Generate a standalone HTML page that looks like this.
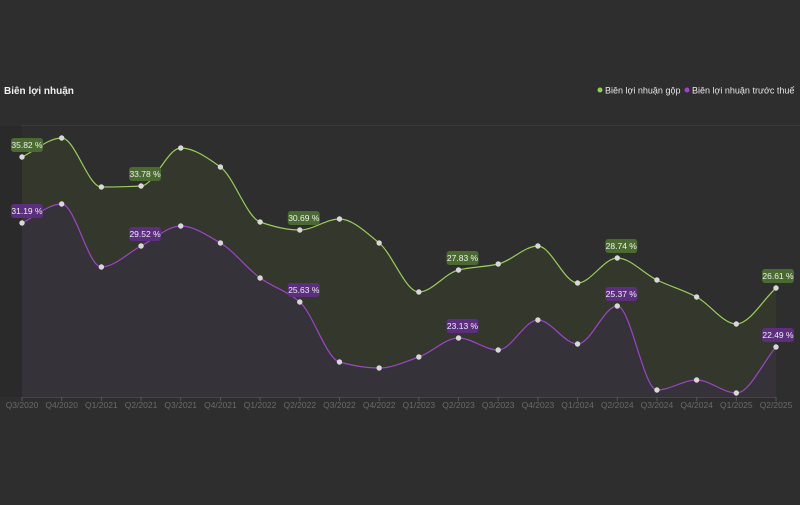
<!DOCTYPE html><html><head><meta charset="utf-8"><style>
body{margin:0;width:800px;height:500px;background:#2e2e2e;overflow:hidden;font-family:"Liberation Sans",sans-serif}
</style></head><body>
<svg id="s" width="800" height="500" xmlns="http://www.w3.org/2000/svg" font-family="Liberation Sans, sans-serif">
<rect width="800" height="500" fill="#2e2e2e"/>
<text x="4" y="94" fill="#f0f0f0" font-size="10" font-weight="bold">Biên lợi nhuận</text>
<circle cx="600" cy="90" r="2.5" fill="#8fd14f"/>
<text x="605" y="93.5" fill="#e8e8e8" font-size="9">Biên lợi nhuận gộp</text>
<circle cx="687" cy="90" r="2.5" fill="#a040d0"/>
<text x="692" y="93.5" fill="#e8e8e8" font-size="9">Biên lợi nhuận trước thuế</text>
<line x1="22" y1="125.5" x2="800" y2="125.5" stroke="#3a3a3a"/>
<rect x="0" y="126" width="22" height="271" fill="#2a2a2a"/>
<g id="g"></g>
</svg>
<script>
var G=[157,138,187,186,148,167,222,230,219,243,292,270,264,246,283,258,280,297,324,288];
var P=[223,204,267,246,226,243,278,302,362,368,357,338,350,320,344,306,390,380,393,347];
var L=["Q3/2020","Q4/2020","Q1/2021","Q2/2021","Q3/2021","Q4/2021","Q1/2022","Q2/2022","Q3/2022","Q4/2022","Q1/2023","Q2/2023","Q3/2023","Q4/2023","Q1/2024","Q2/2024","Q3/2024","Q4/2024","Q1/2025","Q2/2025"];
var h=754/19;var X=function(i){return 22+i*h};
function path(Y){var n=Y.length,d=[],m=[];for(var i=0;i<n-1;i++)d.push((Y[i+1]-Y[i])/h);
m[0]=d[0];m[n-1]=d[n-2];for(var i=1;i<n-1;i++){if(d[i-1]*d[i]<=0)m[i]=0;else m[i]=2/(1/d[i-1]+1/d[i]);}
var s="M"+X(0)+","+Y[0];for(var i=0;i<n-1;i++){s+=" C"+(X(i)+h/3)+","+(Y[i]+m[i]*h/3)+" "+(X(i+1)-h/3)+","+(Y[i+1]-m[i+1]*h/3)+" "+X(i+1)+","+Y[i+1];}return s;}
var s="";var B=397;
s+='<path d="'+path(G)+' L776,'+B+' L22,'+B+'Z" fill="#34382c"/>';
s+='<path d="'+path(P)+' L776,'+B+' L22,'+B+'Z" fill="#363239"/>';
s+='<line x1="22" y1="397.5" x2="776" y2="397.5" stroke="#444"/>';
s+='<path d="'+path(G)+'" fill="none" stroke="#9acd5a" stroke-width="1.2"/>';
s+='<path d="'+path(P)+'" fill="none" stroke="#9a45c8" stroke-width="1.2"/>';
for(var i=0;i<20;i++){s+='<line x1="'+X(i)+'" y1="397" x2="'+X(i)+'" y2="401" stroke="#555"/>';
s+='<text x="'+X(i)+'" y="408" fill="#6a6a6a" font-size="8.5" text-anchor="middle">'+L[i]+'</text>';
s+='<circle cx="'+X(i)+'" cy="'+G[i]+'" r="2.7" fill="#d8d8d8"/><circle cx="'+X(i)+'" cy="'+P[i]+'" r="2.7" fill="#d8d8d8"/>';}
var gl={0:"35.82 %",3:"33.78 %",7:"30.69 %",11:"27.83 %",15:"28.74 %",19:"26.61 %"};
var pl={0:"31.19 %",3:"29.52 %",7:"25.63 %",11:"23.13 %",15:"25.37 %",19:"22.49 %"};
function lab(i,y,t,c){var cx=X(i)+4;if(cx+16>794)cx=778;if(cx-16<11)cx=27;s+='<rect x="'+(cx-16)+'" y="'+(y-19)+'" width="32" height="14" rx="3" fill="'+c+'"/><text x="'+cx+'" y="'+(y-9)+'" fill="#eee" font-size="8.5" text-anchor="middle">'+t+'</text>';}
for(var k in gl)lab(+k,G[k],gl[k],"#4b6a32");
for(var k in pl)lab(+k,P[k],pl[k],"#5c2e7e");
document.getElementById("g").innerHTML=s;
</script>
</body></html>
